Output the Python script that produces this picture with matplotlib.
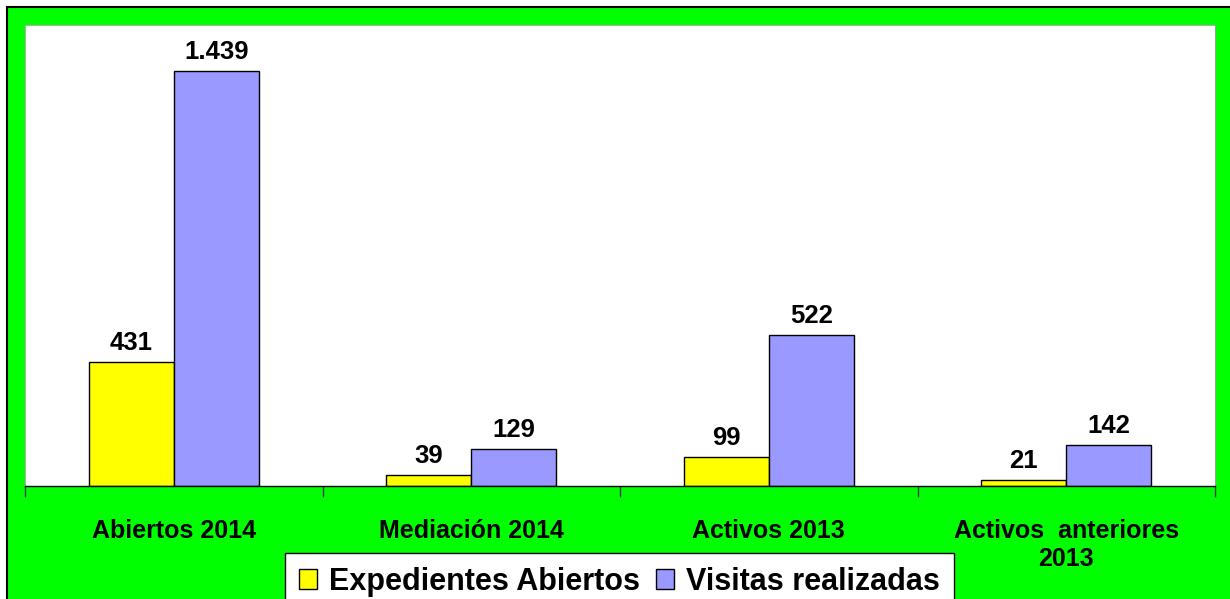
import matplotlib.pyplot as plt
import numpy as np
from matplotlib.patches import Rectangle

plt.rcParams['font.family'] = ['Liberation Sans', 'DejaVu Sans']

categorias = ["Abiertos 2014", "Mediación 2014", "Activos 2013", "Activos  anteriores\n2013"]
expedientes = [431, 39, 99, 21]
visitas = [1439, 129, 522, 142]
series = ["Expedientes Abiertos", "Visitas realizadas"]


def formato_es(v):
    # separador de miles con punto
    return f"{v:,}".replace(",", ".")


fig = plt.figure(figsize=(12.3, 5.99), dpi=100)
fig.patch.set_facecolor("white")

# fondo verde con borde negro
fondo = Rectangle((7 / 1230, -0.05), 1.1, 1 - 7 / 599 + 0.05, transform=fig.transFigure,
                  facecolor="#00FF00", edgecolor="black", linewidth=1.5, zorder=-10)
fig.patches.append(fondo)

ax = fig.add_axes([25 / 1230, 1 - 486 / 599, 1190 / 1230, 461 / 599])
ax.set_zorder(1)
ax.set_facecolor("white")

x = np.arange(len(categorias))
ancho = 0.285
b1 = ax.bar(x - ancho / 2, expedientes, ancho, color="#FFFF00", edgecolor="black",
            linewidth=1, label=series[0])
b2 = ax.bar(x + ancho / 2, visitas, ancho, color="#9999FF", edgecolor="black",
            linewidth=1, label=series[1])

for barras, valores in [(b1, expedientes), (b2, visitas)]:
    for rect, v in zip(barras, valores):
        ax.annotate(formato_es(v), (rect.get_x() + rect.get_width() / 2, rect.get_height()),
                    xytext=(0, 5), textcoords="offset points", ha="center", va="bottom",
                    fontsize=18.5, fontweight="bold")

ax.set_xlim(-0.5, len(categorias) - 0.5)
ax.set_ylim(0, 1598)
ax.set_yticks([])

ax.set_xticks(x)
ax.set_xticklabels(categorias, fontsize=18, fontweight="bold", va="top")
ax.tick_params(axis="x", which="major", length=0, pad=24)
ax.set_xticks(np.arange(-0.5, len(categorias)), minor=True)
ax.tick_params(axis="x", which="minor", length=8, width=1, color="#404040", direction="out")

for lado in ["left", "top", "right"]:
    ax.spines[lado].set_color("#A0A0A0")
    ax.spines[lado].set_linewidth(0.6)
ax.spines["bottom"].set_color("black")
ax.spines["bottom"].set_linewidth(1)

leg = fig.legend(loc="upper left", bbox_to_anchor=(285 / 1230, 1 - 553 / 599),
                 ncol=2, prop={"weight": "bold", "size": 22},
                 frameon=True, fancybox=False, framealpha=1, handlelength=0.6, handleheight=0.6,
                 handletextpad=0.4, columnspacing=0.5, borderpad=0.45, borderaxespad=0)
leg.get_frame().set_edgecolor("black")
leg.get_frame().set_linewidth(1)

fig.savefig("out.png", dpi=100, facecolor=fig.get_facecolor())
